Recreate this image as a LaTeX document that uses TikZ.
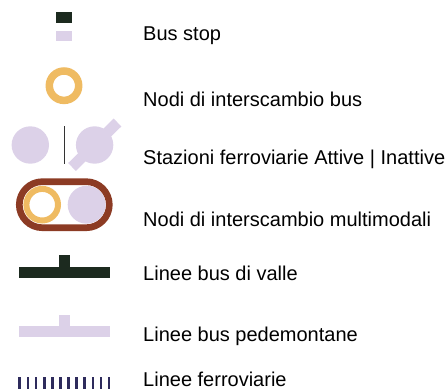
\documentclass[tikz,border=0pt]{standalone}
\usepackage{fontspec}
\setmainfont{Liberation Sans}
\usepackage{xcolor}
\definecolor{valle}{HTML}{1C2A1F}
\definecolor{lilla}{HTML}{DCD1E8}
\definecolor{arancio}{HTML}{EFBB62}
\definecolor{mattone}{HTML}{8C3B24}
\definecolor{ferro}{HTML}{2E2B5C}

\begin{document}
\begin{tikzpicture}[x=1pt, y=-1pt,
  label/.style={anchor=base west, inner sep=0pt, font=\fontsize{20}{22}\selectfont},
  ring/.style={draw=arancio, line width=6.5pt},
  disc/.style={fill=lilla},
  tick/.style={draw=ferro, line width=2.7pt},
]
  \useasboundingbox (0,0) rectangle (447,389);

  \fill[valle] (56,12) rectangle (72,23);
  \fill[lilla] (56,31) rectangle (72,41);
  \node[label] (stop) at (143,40.7) {Bus stop};

  \draw[ring, line width=7.5pt] (64,85.7) circle[radius=14.7];
  \node[label] (busnode) at (143,106) {Nodi di interscambio bus};

  \fill[disc] (30.3,145) circle[radius=18.7];
  \draw[black!80, line width=1pt] (64,126) -- (64,164);
  \fill[disc] (94.6,145) circle[radius=18.7];
  \draw[lilla, line width=11pt] (72,167) -- (117.5,122.5);
  \node[label] (stations) at (143,164) {Stazioni ferroviarie Attive | Inattive};

  \draw[mattone, line width=6.7pt, rounded corners=23pt] (19.3,181.7) rectangle (109.3,227.7);
  \draw[ring, line width=6pt] (42.2,204.7) circle[radius=15.8];
  \fill[disc] (86.7,204.7) circle[radius=19];
  \node[label] (multi) at (143,226.5) {Nodi di interscambio multimodali};

  \fill[valle] (18.7,267.3) rectangle (110,277.7);
  \fill[valle] (59,255.3) rectangle (69.7,267.5);
  \node[label] (valley) at (143,280.5) {Linee bus di valle};

  \fill[lilla] (18.7,326) rectangle (110,337);
  \fill[lilla] (59,315) rectangle (69.7,326.2);
  \node[label] (foothill) at (143,341.5) {Linee bus pedemontane};

  \foreach \i in {0,...,11}
    \draw[tick] ({19.8+8.12*\i},377.3) -- ({19.8+8.12*\i},389);
  \node[label] (rail) at (143,386) {Linee ferroviarie};
\end{tikzpicture}
\end{document}
